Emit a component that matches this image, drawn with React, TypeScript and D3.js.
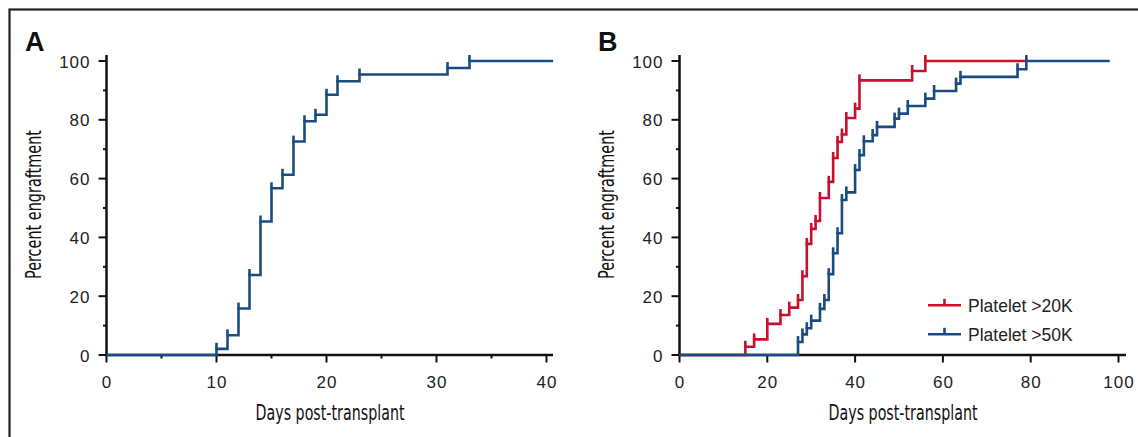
import React from 'react';
import * as d3 from 'd3';

// ---- data ----
const daysA = [10, 11, 12, 13, 14, 15, 16, 17, 18, 19, 20, 21, 23, 31, 33];
const pctA = [2.1, 6.7, 15.8, 27.2, 45.4, 56.7, 61.3, 72.6, 79.5, 81.7, 88.5, 93.1, 95.4, 97.6, 100];
const endA = 40.6;

const daysR = [15, 17, 20, 23, 25, 27, 28, 29, 30, 31, 32, 34, 35, 36, 37, 38, 40, 41, 53, 56];
const pctR = [2.8, 5.3, 10.6, 13.6, 16.1, 18.7, 26.8, 37.8, 42.9, 45.6, 53.4, 58.9, 67.0, 72.5, 75.0, 80.6, 83.8, 93.4, 96.6, 100];
const endR = 79;

const daysBl = [27, 28, 29, 30, 32, 33, 34, 35, 36, 37, 38, 40, 41, 42, 44, 45, 49, 50, 52, 56, 58, 63, 64, 77, 79];
const pctBl = [4.4, 7.0, 9.1, 11.7, 15.7, 18.7, 27.5, 34.6, 41.4, 52.7, 55.3, 62.9, 68.0, 72.7, 74.8, 77.6, 80.4, 82.1, 84.7, 87.2, 89.8, 92.3, 94.6, 97.2, 100];
const endBl = 98;

const xTicksA = [0, 10, 20, 30, 40];
const xMinorA = [5, 15, 25, 35];
const xTicksB = [0, 20, 40, 60, 80, 100];
const yTicks = [0, 20, 40, 60, 80, 100];
const yMinor = [10, 30, 50, 70, 90];
const legendLabels = ['Platelet >20K', 'Platelet >50K'];
const xTitle = 'Days post-transplant';
const yTitle = 'Percent engraftment';

const BLUE = '#1a4c82';
const RED = '#c8102e';
const AX = '#111';
const SANS = '"Liberation Sans", Arial, Helvetica, sans-serif';
const NARROW = '"Liberation Sans Narrow", "DejaVu Sans Condensed", "Liberation Sans", sans-serif';

const yScale = d3.scaleLinear().domain([0, 100]).range([355, 61]);
const xA = d3.scaleLinear().domain([0, 40]).range([106.5, 546.5]);
const xB = d3.scaleLinear().domain([0, 100]).range([679.5, 1118.5]);

type Sc = d3.ScaleLinear<number, number>;

function Curve({ days, pct, end, x, color }: { days: number[]; pct: number[]; end: number; x: Sc; color: string }) {
  const pts: [number, number][] = [[0, 0], ...days.map((d, i) => [d, pct[i]] as [number, number]), [end, pct[pct.length - 1]]];
  const line = d3
    .line<[number, number]>()
    .x((d) => x(d[0]))
    .y((d) => yScale(d[1]))
    .curve(d3.curveStepAfter);
  return (
    <g>
      <path d={line(pts) || ''} fill="none" stroke={color} strokeWidth={2.6} strokeLinejoin="miter" />
      {days.map((d, i) => (
        <line key={i} x1={x(d)} x2={x(d)} y1={yScale(pct[i]) + 1} y2={yScale(pct[i]) - 6} stroke={color} strokeWidth={2.6} />
      ))}
    </g>
  );
}

function Axes({ x, ticks, minor, axisEnd, titleCx, letter, letterX, yTitleX }: { x: Sc; ticks: number[]; minor: number[]; axisEnd: number; titleCx: number; letter: string; letterX: number; yTitleX: number }) {
  const x0 = x(0);
  const y0 = yScale(0);
  return (
    <g>
      <text x={letterX} y={51} fontFamily={SANS} fontWeight="bold" fontSize={27} fill="#111">{letter}</text>
      <line x1={x0} x2={x0} y1={55} y2={y0 + 1.2} stroke={AX} strokeWidth={2.5} />
      {yTicks.map((t) => (
        <g key={t}>
          <line x1={x0 - 8} x2={x0} y1={yScale(t)} y2={yScale(t)} stroke={AX} strokeWidth={2} />
          <text x={x0 - 16} y={yScale(t) + 6.5} textAnchor="end" fontFamily={SANS} fontSize={17} letterSpacing={1} fill="#222">{t}</text>
        </g>
      ))}
      {yMinor.map((t) => (
        <line key={t} x1={x0 - 3.5} x2={x0} y1={yScale(t)} y2={yScale(t)} stroke={AX} strokeWidth={2} />
      ))}
      <line x1={x0 - 1.2} x2={axisEnd} y1={y0} y2={y0} stroke={AX} strokeWidth={2.5} />
      {ticks.map((t) => (
        <g key={t}>
          <line x1={x(t)} x2={x(t)} y1={y0} y2={y0 + 7.5} stroke={AX} strokeWidth={2} />
          <text x={x(t) + 0.5} y={387.5} textAnchor="middle" fontFamily={SANS} fontSize={17} letterSpacing={1} fill="#222">{t}</text>
        </g>
      ))}
      {minor.map((t) => (
        <line key={t} x1={x(t)} x2={x(t)} y1={y0} y2={y0 + 3.5} stroke={AX} strokeWidth={2} />
      ))}
      <text x={titleCx} y={419.5} textAnchor="middle" fontFamily={NARROW} fontSize={21} textLength={149} lengthAdjust="spacingAndGlyphs" fill="#111">{xTitle}</text>
      <text transform={`translate(${yTitleX},204.5) rotate(-90)`} textAnchor="middle" fontFamily={NARROW} fontSize={21} textLength={149} lengthAdjust="spacingAndGlyphs" fill="#111">{yTitle}</text>
    </g>
  );
}

export default function App() {
  const legendColors = [RED, BLUE];
  const legendY = [305.3, 334.3];
  return (
    <svg width={1138} height={437} style={{ position: 'absolute', left: 0, top: 0, background: '#fff' }}>
      <rect x={0} y={0} width={1138} height={437} fill="#fff" />
      <rect x={9.5} y={9.5} width={1300} height={600} fill="none" stroke="#222" strokeWidth={2.2} />
      <Axes x={xA} ticks={xTicksA} minor={xMinorA} axisEnd={553} titleCx={330} letter="A" letterX={25} yTitleX={41} />
      <Axes x={xB} ticks={xTicksB} minor={[]} axisEnd={1126} titleCx={903} letter="B" letterX={598} yTitleX={614} />
      <Curve days={daysA} pct={pctA} end={endA} x={xA} color={BLUE} />
      <Curve days={daysR} pct={pctR} end={endR} x={xB} color={RED} />
      <Curve days={daysBl} pct={pctBl} end={endBl} x={xB} color={BLUE} />
      {legendLabels.map((lab, i) => (
        <g key={lab}>
          <line x1={928} x2={961} y1={legendY[i]} y2={legendY[i]} stroke={legendColors[i]} strokeWidth={2.6} />
          <line x1={944.5} x2={944.5} y1={legendY[i]} y2={legendY[i] - 6.5} stroke={legendColors[i]} strokeWidth={2.6} />
          <text x={968} y={legendY[i] + 6.3} fontFamily={SANS} fontSize={17.5} fill="#222">{lab}</text>
        </g>
      ))}
    </svg>
  );
}
